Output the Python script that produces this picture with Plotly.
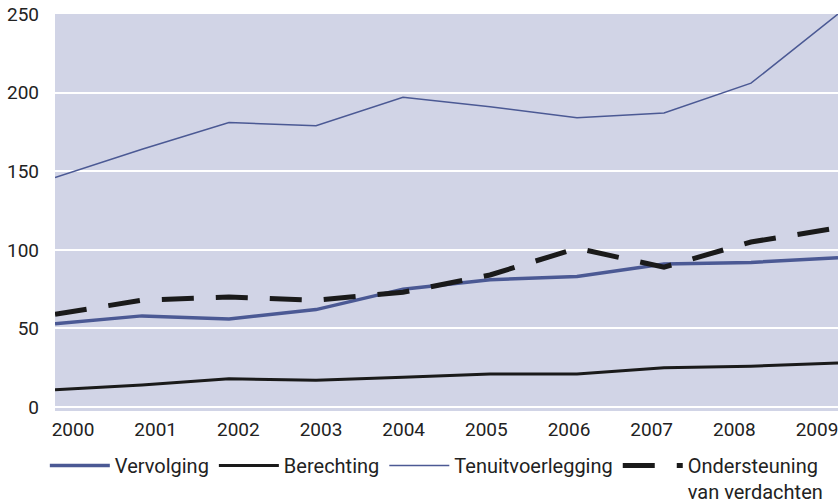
import plotly.graph_objects as go

years = [2000, 2001, 2002, 2003, 2004, 2005, 2006, 2007, 2008, 2009]
vervolging = [53, 58, 56, 62, 75, 81, 83, 91, 92, 95]
berechting = [11, 14, 18, 17, 19, 21, 21, 25, 26, 28]
tenuitvoerlegging = [146, 164, 181, 179, 197, 191, 184, 187, 206, 250]
ondersteuning = [59, 68, 70, 68, 73, 84, 101, 89, 105, 114]

BLUE = "#4b5994"
BLACK = "#1a1a1a"
BG = "#d1d4e6"

fig = go.Figure()
fig.add_trace(go.Scatter(x=years, y=vervolging, mode="lines", name="Vervolging",
                         line=dict(color=BLUE, width=3.5)))
fig.add_trace(go.Scatter(x=years, y=berechting, mode="lines", name="Berechting",
                         line=dict(color=BLACK, width=3)))
fig.add_trace(go.Scatter(x=years, y=tenuitvoerlegging, mode="lines", name="Tenuitvoerlegging",
                         line=dict(color=BLUE, width=1.5)))
fig.add_trace(go.Scatter(x=years, y=ondersteuning, mode="lines",
                         name="Ondersteuning<br>van verdachten",
                         line=dict(color=BLACK, width=5, dash="32px,22px")))

# year labels sit slightly inside the data positions, so they get their own axis
fig.add_trace(go.Scatter(x=years, y=[None] * len(years), xaxis="x2", mode="lines",
                         showlegend=False, hoverinfo="skip"))

fig.update_layout(
    width=840, height=504,
    margin=dict(l=55, r=2, t=14, b=93, autoexpand=False),
    plot_bgcolor=BG, paper_bgcolor="white",
    font=dict(family="Roboto", size=19, color="#222222"),
    showlegend=True,
    legend=dict(orientation="h", x=-0.013, y=-0.088, xanchor="left", yanchor="top",
                font=dict(size=20), itemwidth=60, tracegroupgap=0,
                traceorder="normal", valign="top"),
    xaxis=dict(range=[2000, 2009], tickvals=years, showgrid=False, zeroline=False,
               ticks="", showline=False, showticklabels=False, automargin=False),
    xaxis2=dict(range=[1999.782, 2009.254], tickvals=years, overlaying="x",
                side="bottom", anchor="y", showgrid=False, zeroline=False,
                ticks="", showline=False, ticklabelstandoff=5,
                tickfont=dict(size=19), automargin=False),
    yaxis=dict(range=[-2.5, 250.01], tickvals=[0, 50, 100, 150, 200, 250],
               showgrid=True, gridcolor="white", gridwidth=2, zeroline=False,
               ticks="", ticklabelstandoff=15, tickfont=dict(size=19),
               automargin=False),
)

# drop the default page margin so the figure fills the window exactly
fig.write_html("out.html", config={"displayModeBar": False},
               post_script="document.body.style.margin='0px';")
